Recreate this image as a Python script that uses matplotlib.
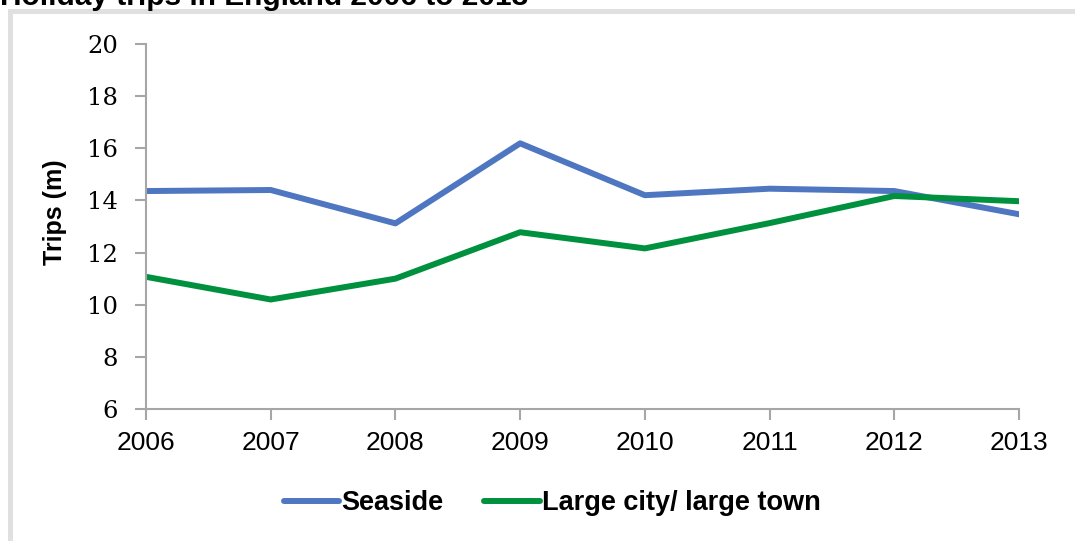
import matplotlib
matplotlib.use("Agg")
import matplotlib.pyplot as plt
from matplotlib.patches import Rectangle

# Holiday trips (millions) by destination type
years = ["2006", "2007", "2008", "2009", "2010", "2011", "2012", "2013"]
seaside = [14.36, 14.40, 13.12, 16.19, 14.20, 14.45, 14.36, 13.47]
large_city = [11.07, 10.20, 11.00, 12.78, 12.16, 13.13, 14.17, 13.97]
y_ticks = [6, 8, 10, 12, 14, 16, 18, 20]

W, H = 1075, 541
fig = plt.figure(figsize=(W / 100, H / 100), dpi=100)
fig.patch.set_facecolor("white")

# light grey chart frame, open towards the right and bottom edges
frame = Rectangle((9.5 / W, -0.2), 1.2, 1 - 11 / H + 0.2,
                  transform=fig.transFigure, fill=False,
                  edgecolor="#e0e0e0", linewidth=3.6, clip_on=False)
fig.patches.append(frame)

fig.text(0.0, 1 - 5 / H, "Holiday trips in England 2006 to 2013",
         family="Liberation Sans", weight="bold", fontsize=21.5,
         ha="left", va="baseline")

ax = fig.add_axes([146 / W, 1 - 409 / H, (1019 - 146) / W, (409 - 44) / H])
x = list(range(len(years)))
ax.plot(x, seaside, color="#4f76c0", linewidth=4.3, label="Seaside",
        solid_capstyle="round")
ax.plot(x, large_city, color="#00913f", linewidth=4.3,
        label="Large city/ large town", solid_capstyle="round")

ax.set_xlim(0, len(years) - 1)
ax.set_ylim(6, 20)
ax.set_xticks(x)
ax.set_xticklabels(years, family="Liberation Sans", fontsize=19)
ax.set_yticks(y_ticks)
ax.set_yticklabels([str(v) for v in y_ticks], family="DejaVu Serif",
                   fontsize=17.5)

for side in ("top", "right"):
    ax.spines[side].set_visible(False)
for side in ("left", "bottom"):
    ax.spines[side].set_color("#a6a6a6")
    ax.spines[side].set_linewidth(1.5)
ax.tick_params(axis="both", direction="out", length=8, width=1.5,
               color="#a6a6a6")
ax.tick_params(axis="y", pad=12)
ax.tick_params(axis="x", pad=8)

fig.text(55 / W, 1 - 212 / H, "Trips (m)", family="Liberation Sans",
         weight="bold", fontsize=18, rotation=90, ha="center", va="center")

leg = fig.legend(loc="center", bbox_to_anchor=(552 / W, 1 - 503 / H),
                 ncol=2, frameon=False, handlelength=2.05,
                 handletextpad=0.08, columnspacing=1.5,
                 prop={"family": "Liberation Sans", "weight": "bold",
                       "size": 19.5})

fig.savefig("out.png", dpi=100, facecolor="white")
